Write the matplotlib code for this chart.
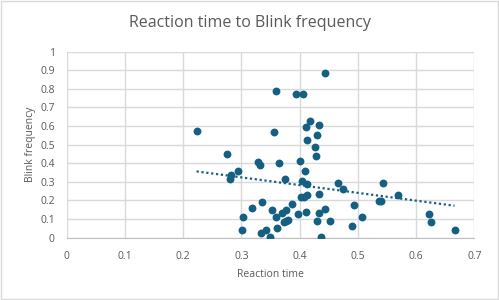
import matplotlib.pyplot as plt
import numpy as np
from matplotlib.patches import Rectangle

# Data
reactionTime = [0.444, 0.359, 0.394, 0.406, 0.223, 0.356, 0.417, 0.411, 0.433, 0.413,
                0.430, 0.427, 0.428, 0.275, 0.328, 0.332, 0.364, 0.401, 0.294, 0.282,
                0.281, 0.410, 0.375, 0.404, 0.412, 0.466, 0.474, 0.433, 0.402, 0.407,
                0.413, 0.335, 0.319, 0.387, 0.536, 0.494, 0.352, 0.377, 0.370, 0.359,
                0.303, 0.398, 0.411, 0.434, 0.443, 0.380, 0.376, 0.373, 0.429, 0.453,
                0.507, 0.490, 0.301, 0.362, 0.342, 0.333, 0.349, 0.437, 0.543, 0.569,
                0.539, 0.622, 0.626, 0.666]
blinkFrequency = [0.886, 0.787, 0.773, 0.773, 0.575, 0.568, 0.626, 0.597, 0.608, 0.525,
                  0.550, 0.488, 0.441, 0.452, 0.407, 0.389, 0.403, 0.411, 0.360, 0.339,
                  0.314, 0.357, 0.314, 0.305, 0.290, 0.296, 0.262, 0.237, 0.217, 0.220,
                  0.228, 0.194, 0.158, 0.180, 0.196, 0.177, 0.147, 0.149, 0.134, 0.111,
                  0.111, 0.127, 0.140, 0.133, 0.153, 0.097, 0.090, 0.083, 0.088, 0.091,
                  0.110, 0.063, 0.043, 0.052, 0.040, 0.024, 0.002, 0.005, 0.296, 0.231,
                  0.199, 0.127, 0.086, 0.043]

xTicks = [0, 0.1, 0.2, 0.3, 0.4, 0.5, 0.6, 0.7]
yTicks = [0, 0.1, 0.2, 0.3, 0.4, 0.5, 0.6, 0.7, 0.8, 0.9, 1]

plt.rcParams['font.family'] = ['Open Sans', 'DejaVu Sans']
textColor = '#595959'
gridColor = '#d9d9d9'
markerColor = '#156082'

fig = plt.figure(figsize=(4.99, 3.0), dpi=100)
ax = fig.add_axes([0.1337, 0.2077, 0.8168, 0.62])

# Chart-area border
fig.patches.append(Rectangle((0.002, 0.003), 0.996, 0.994, transform=fig.transFigure,
                             fill=False, edgecolor=gridColor, lw=1))

ax.scatter(reactionTime, blinkFrequency, s=32, c=markerColor, zorder=3, linewidths=0)

# Linear trendline
coef = np.polyfit(reactionTime, blinkFrequency, 1)
xs = np.array([min(reactionTime), max(reactionTime)])
ax.plot(xs, np.polyval(coef, xs), ls=(0, (1, 1.2)), c=markerColor, lw=1.6, zorder=2)

ax.set_xlim(0, 0.7)
ax.set_ylim(0, 1)
ax.set_xticks(xTicks)
ax.set_yticks(yTicks)
ax.set_xticklabels([f'{t:g}' for t in xTicks])
ax.set_yticklabels([f'{t:g}' for t in yTicks])
ax.grid(True, color=gridColor, lw=1)
ax.set_axisbelow(True)
for side in ['top', 'right', 'left']:
    ax.spines[side].set_visible(False)
ax.spines['bottom'].set_color('#bfbfbf')
ax.tick_params(length=0, labelsize=7.5, labelcolor=textColor)
ax.tick_params(axis='x', pad=9.5)
ax.tick_params(axis='y', pad=8.7)

# Title is centred on the whole chart, not the plot area
fig.text(0.5, 1 - 23 / 300, 'Reaction time to Blink frequency', color=textColor,
         fontsize=11.5, ha='center', va='center')
ax.set_xlabel('Reaction time', color=textColor, fontsize=7.5, labelpad=5)
ax.set_ylabel('Blink frequency', color=textColor, fontsize=7.5, labelpad=3)

fig.savefig('out.png', dpi=100)
